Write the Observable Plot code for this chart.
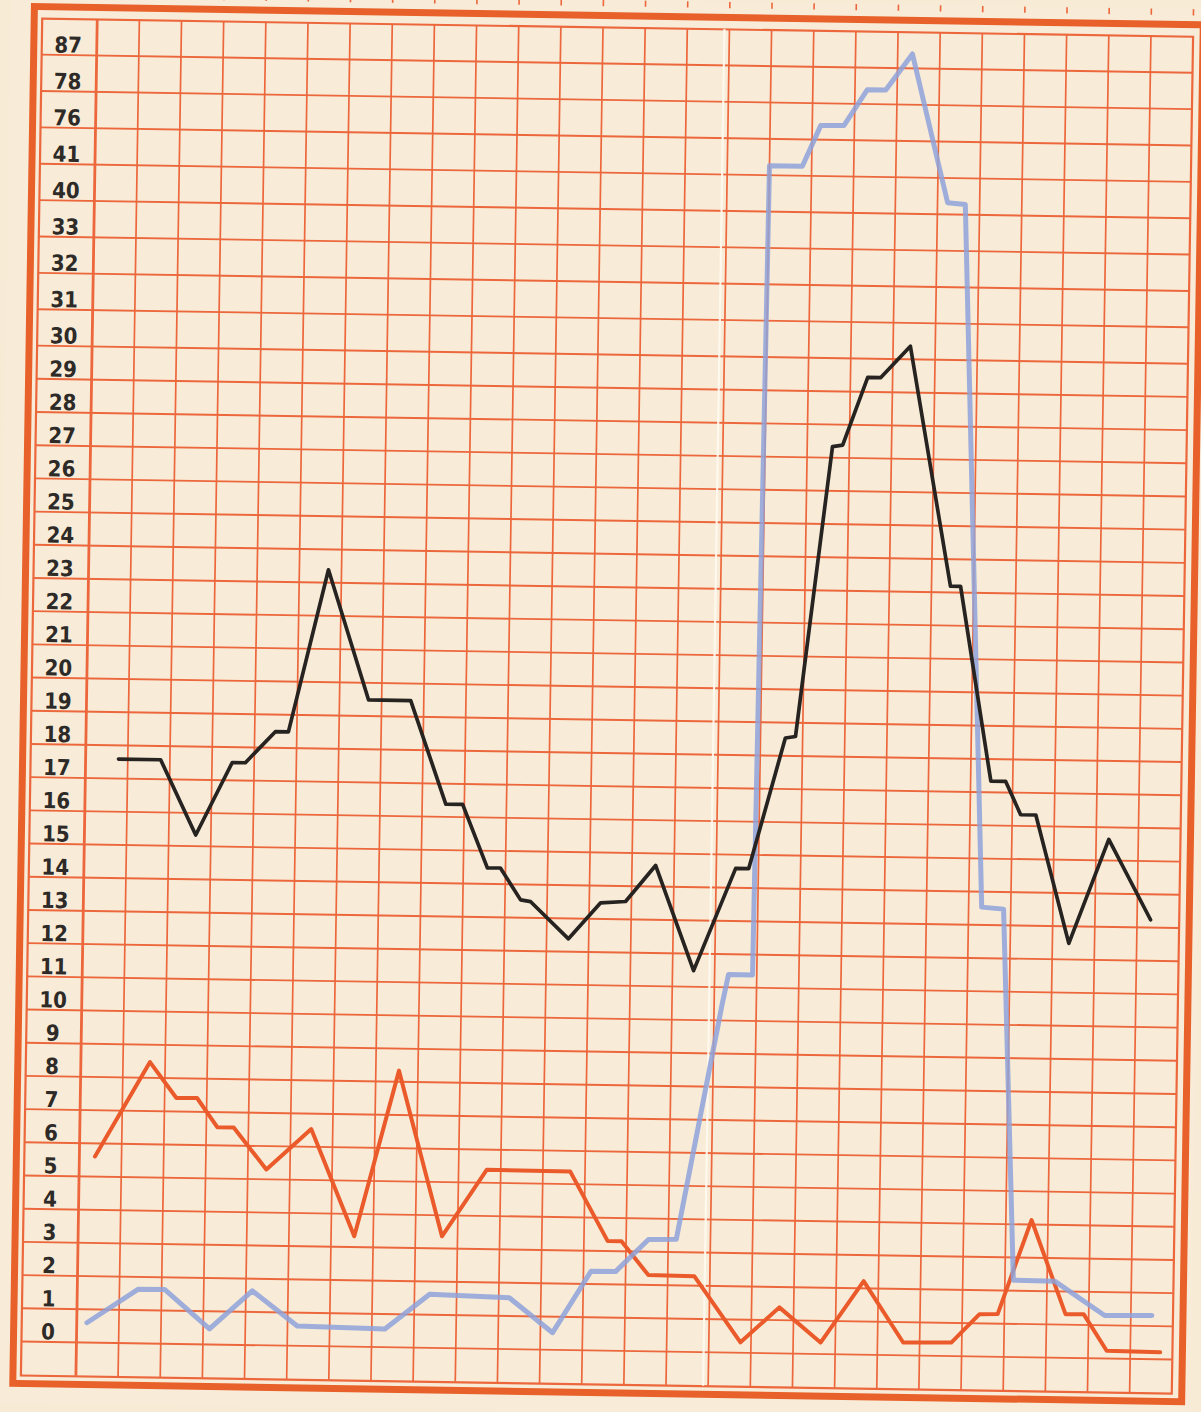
<!DOCTYPE html>
<html>
<head>
<meta charset="utf-8">
<script src="https://cdn.jsdelivr.net/npm/d3@7"></script>
<script src="https://cdn.jsdelivr.net/npm/@observablehq/plot@0.6"></script>
<style>
  html, body { margin: 0; padding: 0; background: #f7ebd6; overflow: hidden; }
  #chart svg { display: block; transform: rotate(0.9deg); transform-origin: 600px 706px; }
</style>
</head>
<body>
<div id="chart"></div>
<script>
// Row labels on the left (bottom to top), one grid row each
const yTicks = [0,1,2,3,4,5,6,7,8,9,10,11,12,13,14,15,16,17,18,19,20,21,22,23,24,25,26,27,28,29,30,31,32,33,40,41,76,78,87];

// Black series (column position, value)
const blackX = [0.78,1.78,2.64,3.48,3.79,4.49,4.80,5.69,6.69,7.69,8.56,8.96,9.57,9.88,10.37,10.61,11.52,12.27,12.86,13.56,14.50,15.46,15.77,16.59,16.83,17.60,17.84,18.41,18.72,19.41,20.45,20.69,21.48,21.83,22.20,22.56,23.39,24.30,25.32];
const blackV = [17.3,17.3,15.05,17.25,17.25,18.2,18.2,23.1,19.2,19.2,16.1,16.1,14.2,14.2,13.25,13.2,12.1,13.2,13.25,14.35,11.2,14.3,14.3,18.25,18.3,27.05,27.1,29.15,29.15,30.1,22.9,22.9,17.05,17.05,16.05,16.05,12.2,15.35,12.95];

// Blue series
const blueX = [0.24,1.44,2.07,3.15,4.15,5.23,7.31,8.36,10.25,11.29,12.18,12.76,13.53,14.19,15.19,15.33,15.90,16.00,16.78,17.20,17.75,18.29,18.73,19.35,20.24,20.66,21.31,21.83,22.20,23.18,24.38,25.50];
const blueV = [0.31,1.34,1.35,0.18,1.35,0.31,0.26,1.33,1.26,0.23,2.1,2.1,3.08,3.1,10.2,11.1,11.1,41,41,76.25,76.27,79.15,79.2,88.2,40.06,40.02,13.25,13.2,2.03,2.02,1.01,1.03];

// Orange series
const orangeX = [0.37,1.64,2.28,2.77,3.26,3.65,4.44,5.49,6.55,7.55,8.63,9.67,11.65,12.56,12.89,13.54,14.63,15.75,16.66,17.65,18.65,19.61,20.75,21.41,21.84,22.61,23.45,23.88,24.44,25.71];
const orangeV = [5.32,8.19,7.12,7.13,6.26,6.26,5.01,6.25,3.04,8.05,3.08,5.11,5.09,3.02,3.02,2.01,2.0,0.03,1.1,0.06,1.93,0.1,0.12,0.99,1.0,3.85,1.03,1.04,-0.05,-0.07];

// Layout / style constants
const W = 1201, H = 1412;
const Y0 = 1340.5;          // pixel row of the bottom label
const ROW_LOW = 33.2;       // printed row height, lower rows
const ROW_HIGH = 36.375;    // printed row height, upper rows (paper is stretched there)
const SPLIT = 30;           // row index where the row height changes
const rowPos = i => i <= SPLIT ? Y0 - i * ROW_LOW : Y0 - SPLIT * ROW_LOW - (i - SPLIT) * ROW_HIGH;
const nCols = 26;
const gridColor = "#ec673c";
const frameColor = "#e8612a";
const paper = "#f8ecd8";

const extraRow = v => 87 + v * 9; // extrapolation above the top label row

const series = (X, V) => X.map((x, i) => ({x, v: V[i]}));

const chart = Plot.plot({
  width: W,
  height: H,
  marginLeft: 31,
  marginRight: W - 1182,
  marginTop: 27,
  marginBottom: H - 1384,
  style: {background: paper},
  x: {domain: [-1.305, nCols], axis: null},
  y: {type: "linear", domain: yTicks, range: yTicks.map((_, i) => rowPos(i)), axis: null},
  marks: [
    // header strip remnants above the outer frame
    Plot.ruleX(d3.range(0, nCols + 1), {y1: extraRow(1.3), y2: extraRow(2.2), stroke: gridColor, strokeWidth: 1.6}),
    // horizontal grid
    Plot.ruleY(yTicks, {dy: 9.5, stroke: gridColor, strokeWidth: 1.9}),
    // vertical grid
    Plot.ruleX(d3.range(1, nCols), {stroke: gridColor, strokeWidth: 1.7}),
    Plot.ruleX([0], {stroke: gridColor, strokeWidth: 2.8}),
    // frames
    Plot.frame({stroke: gridColor, strokeWidth: 2.2}),
    Plot.frame({stroke: frameColor, strokeWidth: 7, insetLeft: -8, insetTop: -12, insetRight: -10, insetBottom: -8}),
    // paper fold
    Plot.ruleX([14.88], {stroke: "#fffaf0", strokeWidth: 2.2, strokeOpacity: 0.9}),
    // data lines
    Plot.line(series(orangeX, orangeV), {x: "x", y: "v", stroke: "#ea5a2a", strokeWidth: 4, strokeLinejoin: "round"}),
    Plot.line(series(blueX, blueV), {x: "x", y: "v", stroke: "#8ea2d9", strokeWidth: 5, strokeOpacity: 0.85, strokeLinejoin: "round"}),
    Plot.line(series(blackX, blackV), {x: "x", y: "v", stroke: "#262321", strokeWidth: 3.7, strokeLinejoin: "round"}),
    // row labels
    Plot.text(yTicks, {
      x: -0.68, y: d => d, text: d => String(d),
      fontFamily: "'Liberation Sans Narrow', 'DejaVu Sans Condensed', sans-serif",
      fontWeight: "bold", fontSize: 22, fill: "#2d2a27"
    })
  ]
});
document.getElementById("chart").append(chart);
</script>
</body>
</html>
